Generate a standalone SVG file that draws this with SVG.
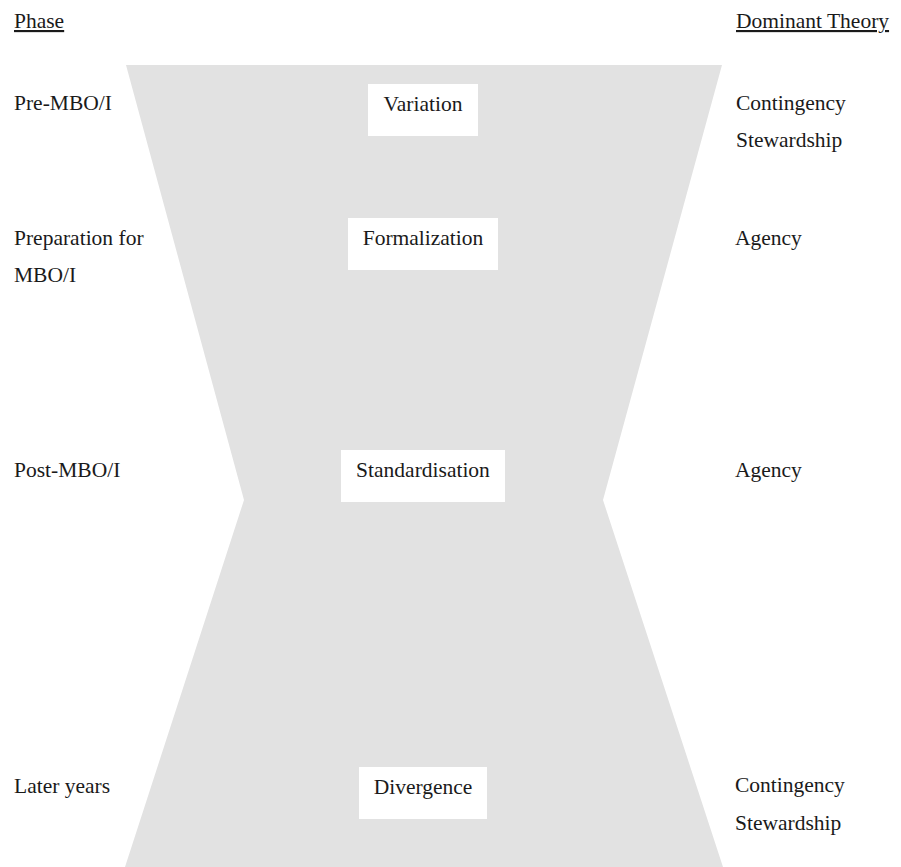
<svg xmlns="http://www.w3.org/2000/svg" width="901" height="867" viewBox="0 0 901 867">
<style>
text{font-family:"Liberation Serif","Times New Roman",serif;font-size:21.5px;fill:#1a1a1a}
.c{text-anchor:middle}
.u{text-decoration:underline}
.box{fill:#ffffff}
.shape{fill:#e2e2e2}
</style>
<rect width="901" height="867" fill="#ffffff"/>
<g id="hourglass">
<polygon class="shape" points="126,65 722,65 603,500 723,867 125,867 244,500"/>
</g>
<g id="connectors"></g>
<g id="headers">
<text x="14" y="28" class="u">Phase</text>
<text x="736" y="28" class="u">Dominant Theory</text>
</g>
<g id="phases">
<text x="14" y="110">Pre-MBO/I</text>
<text x="14" y="245">Preparation for</text>
<text x="14" y="282">MBO/I</text>
<text x="14" y="477">Post-MBO/I</text>
<text x="14" y="793">Later years</text>
</g>
<g id="node-variation">
<rect class="box" x="368" y="84" width="110" height="52"/>
<text class="c" x="423" y="111">Variation</text>
</g>
<g id="node-formalization">
<rect class="box" x="348" y="218" width="150" height="52"/>
<text class="c" x="423" y="245">Formalization</text>
</g>
<g id="node-standardisation">
<rect class="box" x="341" y="450" width="164" height="52"/>
<text class="c" x="423" y="477">Standardisation</text>
</g>
<g id="node-divergence">
<rect class="box" x="359" y="767" width="128" height="52"/>
<text class="c" x="423" y="794">Divergence</text>
</g>
<g id="theories">
<text x="736" y="110">Contingency</text>
<text x="736" y="147">Stewardship</text>
<text x="735" y="245">Agency</text>
<text x="735" y="477">Agency</text>
<text x="735" y="792">Contingency</text>
<text x="735" y="830">Stewardship</text>
</g>
</svg>
